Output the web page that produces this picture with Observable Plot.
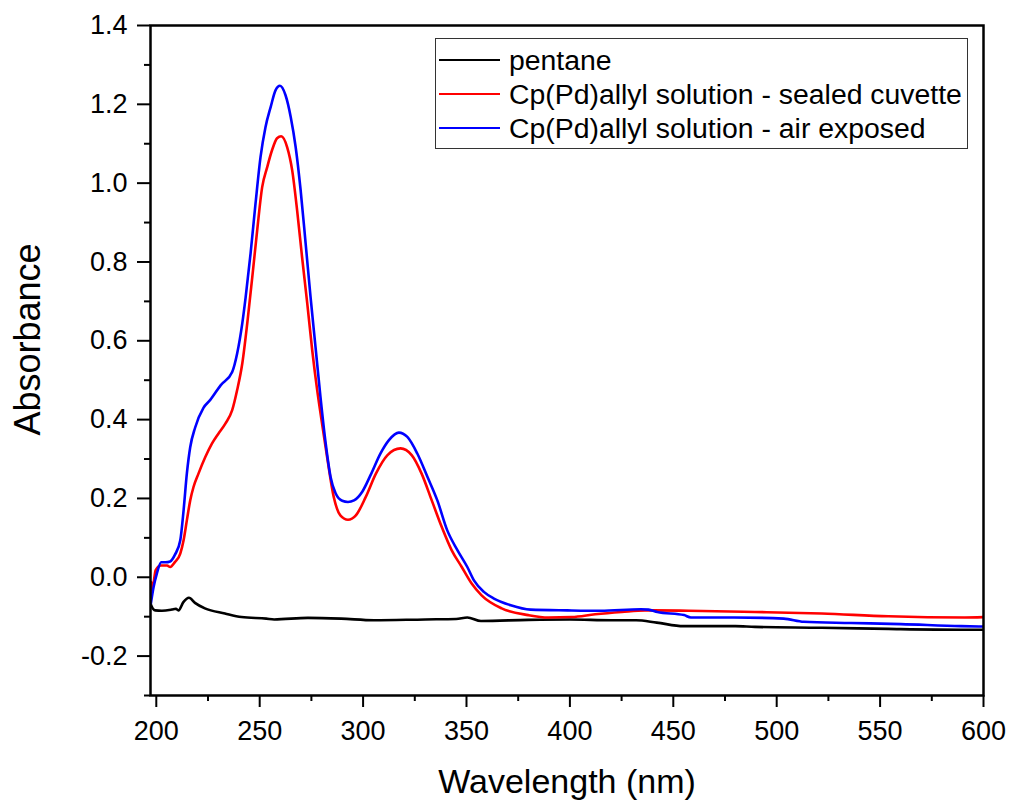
<!DOCTYPE html>
<html><head><meta charset="utf-8">
<script src="https://cdn.jsdelivr.net/npm/d3@7"></script>
<script src="https://cdn.jsdelivr.net/npm/@observablehq/plot@0.6"></script>
<style>
body{margin:0;background:#fff;}
#wrap{position:relative;width:1011px;height:802px;font-family:"Liberation Sans",Arial,sans-serif;}
#legend{position:absolute;left:435px;top:38px;width:533px;height:111px;border:1px solid #333;background:#fff;box-sizing:border-box;}
.row{position:absolute;left:3px;height:34px;display:flex;align-items:center;font-size:28.4px;color:#000;white-space:nowrap;}
.sw{width:61px;height:2px;margin-right:9px;}
</style>
</head><body>
<div id="wrap"><div id="legend"></div></div>
<script>
// Series names and colours
const seriesNames = ["pentane", "Cp(Pd)allyl solution - sealed cuvette", "Cp(Pd)allyl solution - air exposed"];
const seriesColors = ["#000000", "#ff0000", "#0000ff"];

// pentane
const pentaneNm = [197.05,197.5,199.5,202.7,207.5,209.5,210.7,213.1,215.8,218.7,223.5,233.2,241.2,253.2,257.0,273.3,289.4,305.3,330,345,350.4,357,380,400,420,432,442,455,480,489.5,521.8,554,589,600];
const pentaneAbs = [-0.058,-0.071,-0.084,-0.085,-0.082,-0.080,-0.084,-0.063,-0.052,-0.065,-0.079,-0.092,-0.101,-0.105,-0.107,-0.103,-0.105,-0.109,-0.107,-0.106,-0.102,-0.111,-0.108,-0.107,-0.109,-0.109,-0.115,-0.124,-0.124,-0.126,-0.128,-0.131,-0.133,-0.133];

// sealed cuvette
const sealedNm = [197.2,197.6,198.1,199.7,202.2,205.2,206.7,209.1,211.6,213.2,214.8,216.4,218.0,220.4,223.7,226.9,230.1,233.4,236.7,239.1,241.6,244.0,246.4,248.8,251.2,253.6,256.0,258.4,260.4,263.3,265.7,268.1,270.5,273.0,275.4,277.8,279.7,282.6,285.8,289.0,292.7,296.5,301.3,306.2,311.8,318.1,323.5,328.3,333.2,338.0,342.8,347.7,352.5,357.3,367.0,379.9,389.6,400.9,412.2,425.1,436.3,457.3,489.5,521.8,554.0,591.0,600];
const sealedAbs = [-0.040,-0.012,-0.030,0.018,0.030,0.030,0.026,0.039,0.060,0.094,0.145,0.195,0.229,0.263,0.305,0.339,0.365,0.390,0.424,0.475,0.543,0.645,0.761,0.881,0.990,1.040,1.084,1.114,1.119,1.091,1.033,0.931,0.812,0.695,0.576,0.475,0.406,0.305,0.204,0.157,0.146,0.157,0.204,0.263,0.310,0.327,0.310,0.263,0.195,0.128,0.069,0.026,-0.016,-0.046,-0.079,-0.096,-0.102,-0.101,-0.094,-0.088,-0.084,-0.085,-0.088,-0.092,-0.099,-0.102,-0.101];

// air exposed
const airNm = [197.4,198.7,200.3,202.4,204.5,206.7,209.1,211.6,213.2,214.8,216.4,218.8,222.8,226.1,231.1,236.7,239.1,241.6,243.2,245.6,248.0,250.4,252.8,255.3,257.7,259.8,262.5,265.0,267.4,269.8,272.2,274.6,277.0,279.4,281.9,284.3,286.7,289.9,292.7,295.6,299.6,303.6,308.5,312.5,317.3,321.4,326.2,331.1,335.9,340.7,345.6,350.4,353.6,358.4,363.3,371.4,381.0,398.8,414.9,434.3,438,442.3,455.2,458.5,479.3,503.4,513.1,535.9,560.1,589.1,600];
const airAbs = [-0.066,-0.025,0.010,0.038,0.038,0.040,0.058,0.094,0.170,0.264,0.330,0.380,0.430,0.450,0.487,0.521,0.568,0.645,0.710,0.822,0.949,1.066,1.142,1.193,1.236,1.247,1.223,1.168,1.091,0.982,0.848,0.711,0.584,0.457,0.340,0.254,0.213,0.194,0.191,0.195,0.217,0.259,0.315,0.348,0.367,0.356,0.314,0.255,0.195,0.119,0.069,0.026,-0.008,-0.037,-0.054,-0.071,-0.082,-0.084,-0.085,-0.081,-0.082,-0.088,-0.096,-0.102,-0.102,-0.105,-0.113,-0.116,-0.119,-0.124,-0.125];

// ticks
const xMajor = [200,250,300,350,400,450,500,550,600];
const xMinor = [225,275,325,375,425,475,525,575];
const yMajor = [-0.2,0.0,0.2,0.4,0.6,0.8,1.0,1.2,1.4];
const yMinor = [-0.3,-0.1,0.1,0.3,0.5,0.7,0.9,1.1,1.3];
const xLabel = "Wavelength (nm)";
const yLabel = "Absorbance";

const toRows = (nm, ab, s) => nm.map((v, i) => ({nm: v, abs: ab[i], series: s}));
const seriesData = [
  toRows(pentaneNm, pentaneAbs, seriesNames[0]),
  toRows(sealedNm, sealedAbs, seriesNames[1]),
  toRows(airNm, airAbs, seriesNames[2])
];

const chart = Plot.plot({
  width: 1011, height: 802,
  marginLeft: 150, marginRight: 28, marginTop: 25, marginBottom: 107,
  style: {fontFamily: "'Liberation Sans', Arial, sans-serif", background: "#fff", color: "#000", overflow: "visible"},
  x: {domain: [197.2, 600]},
  y: {domain: [-0.3, 1.4]},
  marks: [
    ...seriesData.map((d, i) => Plot.line(d, {x: "nm", y: "abs", stroke: seriesColors[i], strokeWidth: 2.6, curve: "monotone-x", clip: true})),
    Plot.axisX(xMajor, {tickSize: 12, tickPadding: 13, fontSize: 27, strokeWidth: 2, label: null, tickFormat: d => String(d)}),
    Plot.axisX(xMinor, {tickSize: 6, strokeWidth: 2, label: null, tickFormat: () => ""}),
    Plot.axisY(yMajor, {tickSize: 13, tickPadding: 10, fontSize: 27, strokeWidth: 2, label: null, tickFormat: d => d.toFixed(1)}),
    Plot.axisY(yMinor, {tickSize: 6, strokeWidth: 2, label: null, tickFormat: () => ""}),
    Plot.frame({strokeWidth: 2.5}),
    Plot.text([xLabel], {frameAnchor: "bottom", dy: 87, fontSize: 34, lineAnchor: "middle", textAnchor: "middle"}),
    Plot.text([yLabel], {frameAnchor: "left", dx: -122, dy: -21, rotate: -90, fontSize: 36, lineAnchor: "middle", textAnchor: "middle"})
  ]
});
const wrap = document.getElementById("wrap");
wrap.insertBefore(chart, wrap.firstChild);

const legend = document.getElementById("legend");
seriesNames.forEach((name, i) => {
  const row = document.createElement("div");
  row.className = "row";
  row.style.top = (4 + i * 34) + "px";
  const sw = document.createElement("div");
  sw.className = "sw";
  sw.style.background = seriesColors[i];
  const t = document.createElement("span");
  t.textContent = name;
  row.appendChild(sw); row.appendChild(t);
  legend.appendChild(row);
});
</script>
</body></html>
